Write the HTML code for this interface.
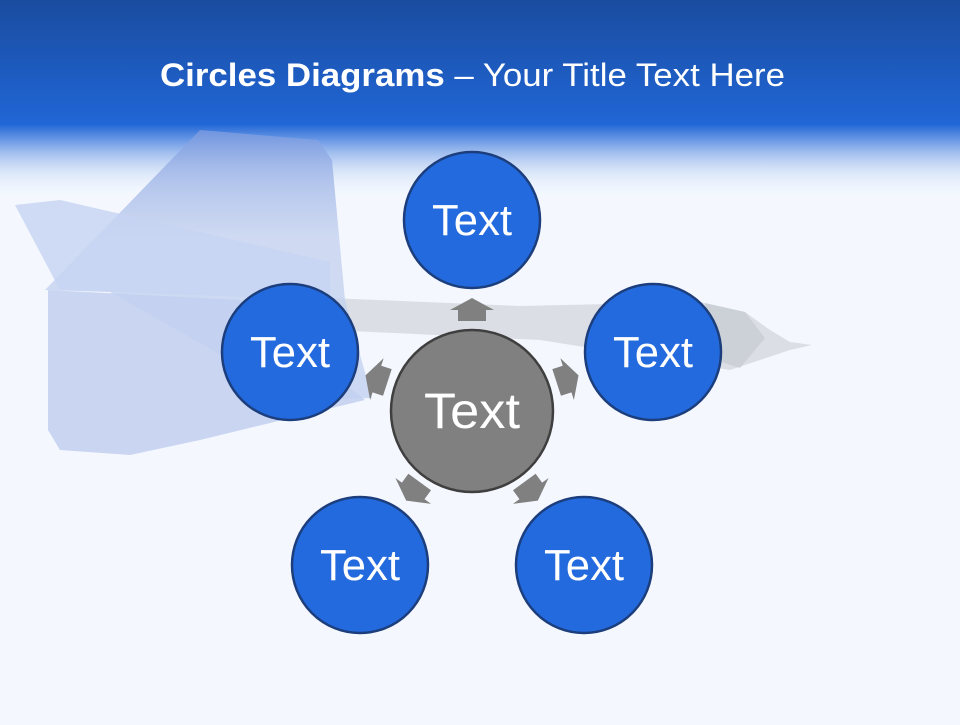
<!DOCTYPE html>
<html><head><meta charset="utf-8"><style>
html,body{margin:0;padding:0}
body{width:960px;height:720px;overflow:hidden;background:#f4f8fe;font-family:"Liberation Sans",sans-serif}
</style></head><body>
<svg width="960" height="720" viewBox="0 0 960 720" xmlns="http://www.w3.org/2000/svg">
<defs>
<linearGradient id="hd" x1="0" y1="0" x2="0" y2="1">
<stop offset="0" stop-color="#1a4c9f" stop-opacity="1"/>
<stop offset="0.62" stop-color="#2066d6" stop-opacity="1"/>
<stop offset="0.7" stop-color="#3b78dc" stop-opacity="0.75"/>
<stop offset="0.85" stop-color="#9dbbec" stop-opacity="0.35"/>
<stop offset="1" stop-color="#f4f8fe" stop-opacity="0"/>
</linearGradient>
<linearGradient id="fin" x1="0" y1="0" x2="0" y2="1">
<stop offset="0" stop-color="#7f9de0"/>
<stop offset="0.4" stop-color="#c3d0ee"/>
<stop offset="1" stop-color="#c0cff0"/>
</linearGradient>
</defs>
<rect width="960" height="720" fill="#f4f8fe"/>
<rect width="960" height="200" fill="url(#hd)"/>
<!-- dart -->
<path d="M330 298 L520 306 L700 302 L745 312 L770 330 L790 342 L812 345 L790 350 L760 360 L730 370 L540 340 L330 330 Z" fill="#d6d9e0" opacity="0.85"/>
<path d="M705 303 L745 312 L765 338 L740 368 L715 360 Z" fill="#c6cad2" opacity="0.7"/>
<path d="M200 130 L318 140 L332 160 L345 300 L372 398 L300 400 L110 292 L45 290 Z" fill="url(#fin)" opacity="0.75"/>
<path d="M15 205 L60 200 L330 262 L330 300 L60 290 Z" fill="#c6d3f2" opacity="0.8"/>
<path d="M48 290 L240 300 L365 400 L200 440 L130 455 L60 450 L48 430 Z" fill="#c2cff0" opacity="0.85"/>
<text x="160" y="86" textLength="625" lengthAdjust="spacingAndGlyphs" font-size="32" fill="#fff"><tspan font-weight="bold">Circles Diagrams</tspan> – Your Title Text Here</text>
<!-- arrows -->
<g fill="#808080">
<g transform="translate(472,410) rotate(0) translate(0,-100)"><path d="M0 -12 L22 0 L14 0 L14 11 L-14 11 L-14 0 L-22 0 Z"/></g>
<g transform="translate(472,410) rotate(-72) translate(0,-100)"><path d="M0 -12 L22 0 L14 0 L14 11 L-14 11 L-14 0 L-22 0 Z"/></g>
<g transform="translate(472,410) rotate(72) translate(0,-100)"><path d="M0 -12 L22 0 L14 0 L14 11 L-14 11 L-14 0 L-22 0 Z"/></g>
<g transform="translate(472,410) rotate(-144) translate(0,-100)"><path d="M0 -12 L22 0 L14 0 L14 11 L-14 11 L-14 0 L-22 0 Z"/></g>
<g transform="translate(472,410) rotate(144) translate(0,-100)"><path d="M0 -12 L22 0 L14 0 L14 11 L-14 11 L-14 0 L-22 0 Z"/></g>
</g>
<g fill="#226ade" stroke="#1c3e7c" stroke-width="2.5">
<circle cx="472" cy="220" r="68"/>
<circle cx="290" cy="352" r="68"/>
<circle cx="653" cy="352" r="68"/>
<circle cx="360" cy="565" r="68"/>
<circle cx="584" cy="565" r="68"/>
</g>
<circle cx="472" cy="411" r="81" fill="#808080" stroke="#3f3f3f" stroke-width="2.5"/>
<g fill="#fff" font-size="44">
<text x="432" y="235" textLength="80" lengthAdjust="spacingAndGlyphs">Text</text>
<text x="250" y="367" textLength="80" lengthAdjust="spacingAndGlyphs">Text</text>
<text x="613" y="367" textLength="80" lengthAdjust="spacingAndGlyphs">Text</text>
<text x="320" y="580" textLength="80" lengthAdjust="spacingAndGlyphs">Text</text>
<text x="544" y="580" textLength="80" lengthAdjust="spacingAndGlyphs">Text</text>
<text x="424" y="428" font-size="50" textLength="96" lengthAdjust="spacingAndGlyphs">Text</text>
</g>
</svg>
</body></html>
